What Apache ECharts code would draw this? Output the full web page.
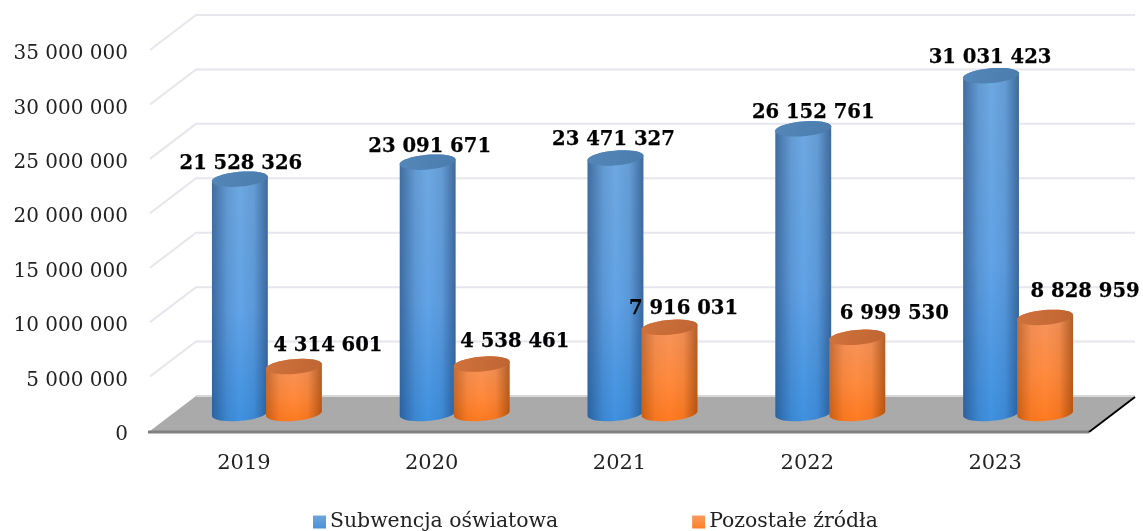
<!DOCTYPE html>
<html>
<head>
<meta charset="utf-8">
<style>html,body{margin:0;padding:0;background:#fff}#c{width:1143px;height:531px}</style>
<script src="https://cdn.jsdelivr.net/npm/echarts@6/dist/echarts.min.js"></script>
</head>
<body>
<div id="c"></div>
<script>
var categories = ['2019', '2020', '2021', '2022', '2023'];
var subwencja = [21528326, 23091671, 23471327, 26152761, 31031423];
var pozostale = [4314601, 4538461, 7916031, 6999530, 8828959];
var yTicks = [0, 5000000, 10000000, 15000000, 20000000, 25000000, 30000000, 35000000];
var seriesNames = ['Subwencja oświatowa', 'Pozostałe źródła'];

var FONT = '"DejaVu Serif", "Liberation Serif", serif';
var DEPTH_X = 46, DEPTH_Y = -35;
var RX = 28, RY = 7.4, TILT = -5 * Math.PI / 180;
var labelNudgeA = [[1, -15], [2, -15], [-2, -18], [10, -16], [-1, -18]];
var labelNudgeB = [[34, -21], [33, -22], [14, -18], [37, -23], [40, -25]];

function fmt(v) { return String(v).replace(/\B(?=(\d{3})+(?!\d))/g, ' '); }
function ell(cx, cy, t) {
  var x = RX * Math.cos(t), y = RY * Math.sin(t);
  return [cx + x * Math.cos(TILT) - y * Math.sin(TILT), cy + x * Math.sin(TILT) + y * Math.cos(TILT)];
}
function ellipsePts(cx, cy) {
  var p = [];
  for (var i = 0; i < 48; i++) p.push(ell(cx, cy, i / 48 * 2 * Math.PI));
  return p;
}
function bodyPts(cx, base, top) {
  var p = [], i;
  for (i = 0; i <= 24; i++) p.push(ell(cx, base, i / 24 * Math.PI));
  for (i = 0; i <= 24; i++) p.push(ell(cx, top, Math.PI + i / 24 * Math.PI));
  return p;
}
function linear(x, y, x2, y2, stops) {
  return { type: 'linear', x: x, y: y, x2: x2, y2: y2,
    colorStops: stops.map(function (s) { return { offset: s[0], color: s[1] }; }) };
}
function cylinderSeries(idx, values, sign, nudge, pal) {
  return {
    type: 'custom', name: seriesNames[idx], coordinateSystem: 'cartesian2d', clip: false, z: 5 + idx,
    encode: { x: 0, y: 1 },
    itemStyle: { color: pal.legend },
    data: values.map(function (v, i) { return [i, v]; }),
    renderItem: function (params, api) {
      var i = api.value(0), v = api.value(1);
      var top = api.coord([i, v]), zero = api.coord([i, 0]);
      var off = api.size([1, 0])[0] * 0.144 * sign;
      var cx = top[0] + off + DEPTH_X / 2;
      var topY = top[1] + DEPTH_Y / 2, baseY = zero[1] + DEPTH_Y / 2;
      var n = nudge[i];
      return {
        type: 'group',
        children: [
          { type: 'polygon', shape: { points: bodyPts(cx, baseY, topY) },
            style: { fill: linear(0, 0, 0, 1, pal.vertical) } },
          { type: 'polygon', shape: { points: bodyPts(cx, baseY, topY) },
            style: { fill: linear(0, 0, 1, 0, pal.edges) } },
          { type: 'polygon', shape: { points: ellipsePts(cx, topY) },
            style: { fill: linear(0, 0, 1, 1, pal.cap) } },
          { type: 'text', z2: 50, style: {
              x: top[0] + off + n[0] + DEPTH_X / 2, y: topY + n[1], text: fmt(v),
              align: 'center', verticalAlign: 'middle',
              font: 'bold 19.6px ' + FONT, fill: '#000', stroke: '#000', lineWidth: 0.25 } }
        ]
      };
    }
  };
}

var blue = {
  legend: linear(0, 0, 0, 1, [[0, '#6ea6dc'], [1, '#4a90d9']]),
  vertical: [[0, '#6ea8e0'], [0.55, '#62a3e6'], [1, '#3f91e0']],
  edges: [[0, 'rgba(25,55,100,0.52)'], [0.28, 'rgba(25,55,100,0.12)'], [0.5, 'rgba(25,55,100,0)'], [0.75, 'rgba(25,55,100,0.1)'], [1, 'rgba(25,55,100,0.55)']],
  cap: [[0, '#5586b8'], [1, '#4a7dae']]
};
var orange = {
  legend: linear(0, 0, 0, 1, [[0, '#f79a5e'], [1, '#ff7f27']]),
  vertical: [[0, '#f59560'], [0.6, '#ff8a3d'], [1, '#ff7a20']],
  edges: [[0, 'rgba(120,50,0,0.4)'], [0.25, 'rgba(120,50,0,0.06)'], [0.5, 'rgba(120,50,0,0)'], [0.75, 'rgba(120,50,0,0.08)'], [1, 'rgba(120,50,0,0.55)']],
  cap: [[0, '#d0723c'], [1, '#bf6532']]
};

var wallSeries = {
  type: 'custom', coordinateSystem: 'cartesian2d', clip: false, z: 1, silent: true,
  encode: { x: 0, y: 1 },
  data: yTicks.map(function (t) { return [0, t]; }),
  renderItem: function (params, api) {
    var t = api.value(1);
    var g = params.coordSys, y = api.coord([0, t])[1];
    var x0 = g.x, x1 = g.x + g.width;
    if (t === 0) {
      return {
        type: 'group',
        children: [
          { type: 'polygon', shape: { points: [[x0, y], [x0 + DEPTH_X, y + DEPTH_Y], [x1 + DEPTH_X, y + DEPTH_Y], [x1, y]] },
            style: { fill: '#aaaaaa' } },
          { type: 'line', shape: { x1: x0 + DEPTH_X, y1: y + DEPTH_Y, x2: x1 + DEPTH_X, y2: y + DEPTH_Y },
            style: { stroke: '#d8d8d8', lineWidth: 2 } },
          { type: 'line', shape: { x1: x0 - 2, y1: y + 1, x2: x1, y2: y + 1 },
            style: { stroke: '#808080', lineWidth: 3 } },
          { type: 'line', shape: { x1: x1, y1: y + 1, x2: x1 + DEPTH_X, y2: y + DEPTH_Y + 1 },
            style: { stroke: '#000', lineWidth: 2 } }
        ]
      };
    }
    return {
      type: 'polyline',
      shape: { points: [[x0, y], [x0 + DEPTH_X, y + DEPTH_Y], [x1 + DEPTH_X, y + DEPTH_Y]] },
      style: { stroke: '#e6e6ee', lineWidth: 2, fill: 'none' }
    };
  }
};

var chart = echarts.init(document.getElementById('c'), null, { renderer: 'canvas' });
chart.setOption({
  animation: false,
  backgroundColor: '#fff',
  grid: { left: 150, right: 54, top: 50, bottom: 100 },
  xAxis: {
    type: 'category', data: categories,
    axisLine: { show: false }, axisTick: { show: false },
    axisLabel: { margin: 22, color: '#222', fontFamily: FONT, fontSize: 21 }
  },
  yAxis: {
    type: 'value', min: 0, max: 35000000, interval: 5000000,
    axisLine: { show: false }, axisTick: { show: false }, splitLine: { show: false },
    axisLabel: { margin: 22, color: '#222', fontFamily: FONT, fontSize: 20, verticalAlign: 'top', lineHeight: 8,
      formatter: function (v) { return fmt(v); } }
  },
  legend: {
    left: 313, top: 512, itemWidth: 13, itemHeight: 13, itemGap: 134, padding: 0,
    icon: 'rect',
    textStyle: { color: '#222', fontFamily: FONT, fontSize: 20.4, padding: [0, 0, 0, -1] },
    data: [
      { name: seriesNames[0], itemStyle: { color: blue.legend } },
      { name: seriesNames[1], itemStyle: { color: orange.legend } }
    ]
  },
  series: [
    wallSeries,
    cylinderSeries(0, subwencja, -1, labelNudgeA, blue),
    cylinderSeries(1, pozostale, 1, labelNudgeB, orange)
  ]
});
</script>
</body>
</html>
